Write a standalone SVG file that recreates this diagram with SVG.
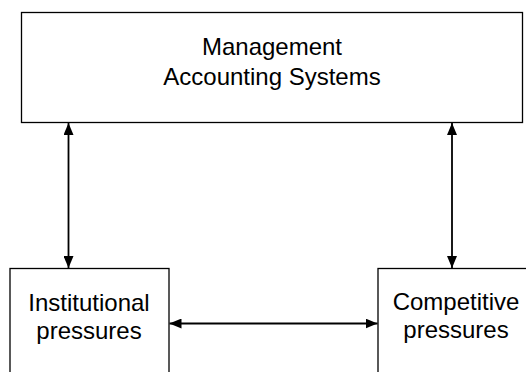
<svg xmlns="http://www.w3.org/2000/svg" width="526" height="372" viewBox="0 0 526 372">
  <style>
    .box { fill: #fff; stroke: #000; stroke-width: 1.3; }
    .label { font-family: "Liberation Sans", Arial, sans-serif; font-size: 24px; fill: #000; text-anchor: middle; }
    .conn { stroke: #000; stroke-width: 1.8; fill: none; marker-start: url(#head); marker-end: url(#head); }
  </style>
  <defs>
    <!-- filled triangular arrowhead, drawn at both ends of each connector -->
    <marker id="head" viewBox="0 0 12 10" refX="12" refY="5" markerWidth="12" markerHeight="10" markerUnits="userSpaceOnUse" orient="auto-start-reverse">
      <path d="M0,0 L12,5 L0,10 Z" fill="#000"/>
    </marker>
  </defs>
  <rect width="526" height="372" fill="#fff"/>

  <g id="mas">
    <rect class="box" x="21.5" y="12.5" width="501" height="110"/>
    <text class="label" x="272" y="54.5">Management</text>
    <text class="label" x="272" y="84.5">Accounting Systems</text>
  </g>

  <g id="institutional">
    <rect class="box" x="10" y="268.5" width="159" height="120"/>
    <text class="label" x="89" y="310.5">Institutional</text>
    <text class="label" x="89" y="338.5">pressures</text>
  </g>

  <g id="competitive">
    <rect class="box" x="378" y="268.5" width="170" height="120"/>
    <text class="label" x="456" y="310">Competitive</text>
    <text class="label" x="456" y="338">pressures</text>
  </g>

  <g id="connectors">
    <line class="conn" x1="68.5" y1="123" x2="68.5" y2="268"/>
    <line class="conn" x1="452" y1="123" x2="452" y2="268"/>
    <line class="conn" x1="169.5" y1="323.5" x2="377.5" y2="323.5"/>
  </g>
</svg>
